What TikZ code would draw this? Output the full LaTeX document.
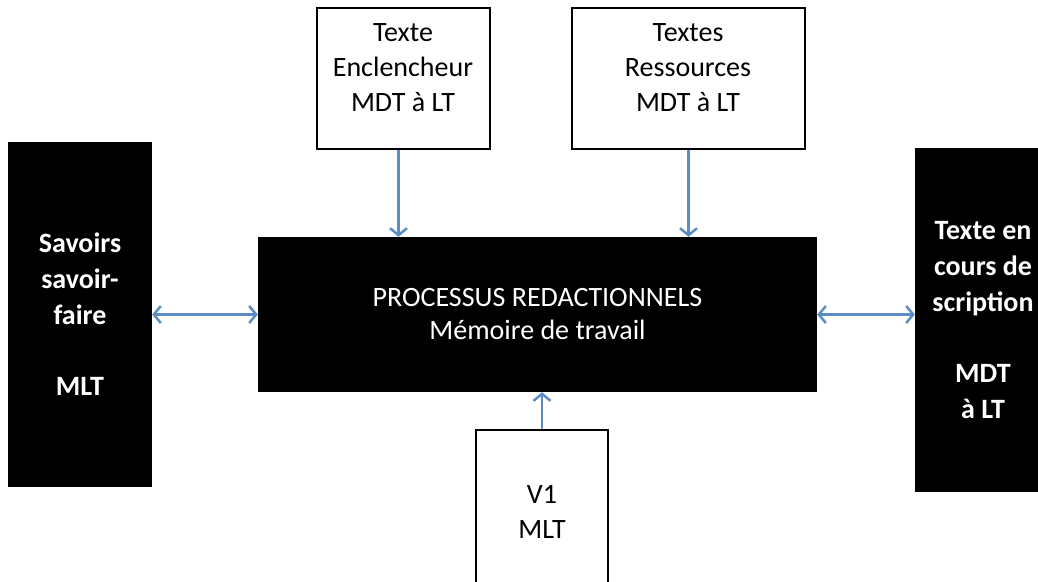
\documentclass[tikz,border=0pt]{standalone}
\usepackage{fontspec}
\setmainfont{Carlito}
\usetikzlibrary{arrows.meta}
\definecolor{linkblue}{RGB}{91,140,196}
\tikzstyle{block} = [rectangle, fill=black, text=white, align=center,
inner sep=0pt, font=\fontsize{28}{36}\selectfont\bfseries]
\tikzstyle{memory} = [block, font=\fontsize{28}{33}\selectfont]
\tikzstyle{source} = [rectangle, draw=black, line width=2pt, fill=white,
inner sep=0pt]
\tikzstyle{boxtext} = [align=center, inner sep=0pt,
font=\fontsize{28}{35}\selectfont]
\tikzstyle{arrow} = [linkblue, line width=2.5pt,
-{Straight Barb[length=7pt,width=17pt,line width=2.5pt]}]
\tikzstyle{darrow} = [linkblue, line width=2.5pt,
{Straight Barb[length=7pt,width=17pt,line width=2.5pt]}-{Straight Barb[length=7pt,width=17pt,line width=2.5pt]}]

\begin{document}
\begin{tikzpicture}[x=1pt, y=-1pt]
    \useasboundingbox (0,0) rectangle (1038,581);
    \clip (0,0) rectangle (1038,581);
    \node (sav) [block, minimum width=144, minimum height=345] at (80,314.5)
    {Savoirs\\savoir-\\faire\\[35pt]MLT};
    \node (proc) [memory, minimum width=559, minimum height=155] at (537.5,314.5)
    {PROCESSUS REDACTIONNELS\\Mémoire de travail};
    \node (scr) [block, minimum width=136, minimum height=344] at (983,320)
    {Texte en\\cours de\\scription\\[35pt]MDT\\à LT};
    \node (enc) [source, minimum width=173, minimum height=141] at (403.5,78.5) {};
    \node (enctext) [boxtext] at (403,68) {Texte\\Enclencheur\\MDT à LT};
    \node (res) [source, minimum width=233, minimum height=141] at (688.5,78.5) {};
    \node (restext) [boxtext] at (688,68) {Textes\\Ressources\\MDT à LT};
    \node (vun) [source, boxtext, minimum width=132, minimum height=164] at (542,512)
    {V1\\MLT};
    \draw [arrow] ([xshift=-5pt]enc.south) -- ([xshift=-5pt]enc.south |- proc.north);
    \draw [arrow] (res.south) -- (res.south |- proc.north);
    \draw [arrow] (vun.north) -- (vun.north |- proc.south);
    \draw [darrow] (sav.east) -- (proc.west);
    \draw [darrow] (proc.east) -- (scr.west |- proc.east);
\end{tikzpicture}
\end{document}
